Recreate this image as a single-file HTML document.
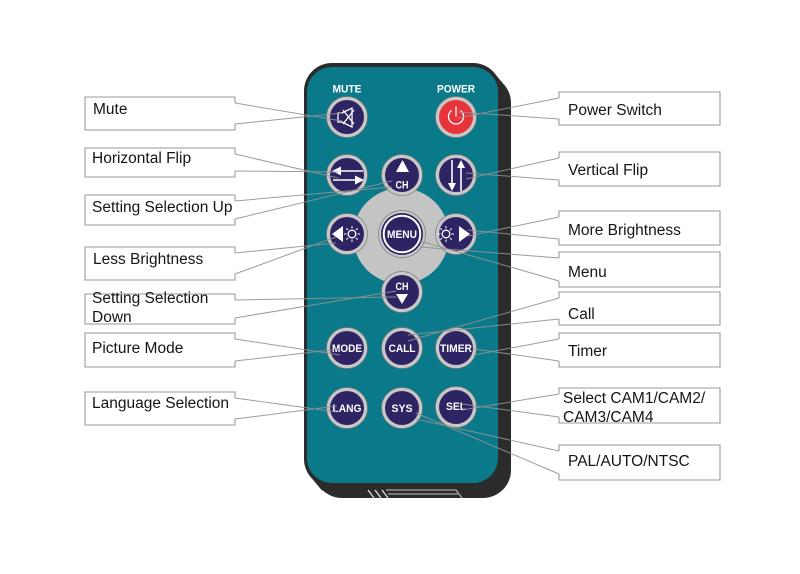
<!DOCTYPE html>
<html><head><meta charset="utf-8"><style>
html,body{margin:0;padding:0;background:#fff;}
svg{display:block;}
.lbl{font-family:"Liberation Sans",Arial,sans-serif;font-size:15.5px;fill:#151515;}
.bt{font-family:"Liberation Sans",Arial,sans-serif;font-weight:bold;font-size:11px;fill:#fff;}
</style></head><body>
<svg width="800" height="574" viewBox="0 0 800 574" xmlns="http://www.w3.org/2000/svg">
<rect width="800" height="574" fill="#fff"/>
<!-- remote body -->
<g fill="#2b2b2b">
<rect x="304" y="63" width="197" height="424" rx="28"/>
<rect x="314" y="75" width="197" height="423" rx="28"/>
<polygon points="473,91 492.8,71.2 502.8,83.2 483,103"/>
<polygon points="332,459 312.2,478.8 322.2,490.8 342,471"/>
</g>
<rect x="307" y="67" width="191" height="416" rx="25" fill="#0a7a8b"/>
<line x1="332" y1="485" x2="474" y2="485" stroke="#3a2020" stroke-width="1"/>
<!-- slot -->
<g stroke="#a8a8a8" stroke-width="1.3" fill="none">
<polyline points="386,490 456,490 462,498"/>
<line x1="388" y1="494" x2="458" y2="494"/>
<line x1="368" y1="490" x2="374" y2="498" stroke="#ddd"/>
<line x1="375" y1="490" x2="381" y2="498" stroke="#ddd"/>
<line x1="382" y1="490" x2="388" y2="498" stroke="#ddd"/>
</g>
<!-- pad -->
<circle cx="401" cy="236" r="48" fill="#c4c4c4"/>
<!-- top labels -->
<text class="bt" x="347" y="92.5" text-anchor="middle" textLength="29" lengthAdjust="spacingAndGlyphs" font-size="10.5">MUTE</text>
<text class="bt" x="456" y="92.5" text-anchor="middle" textLength="38" lengthAdjust="spacingAndGlyphs" font-size="10.5">POWER</text>
<!-- buttons -->
<g stroke="#7a7a7a" stroke-width="0.7" fill="#c8c8c8">
<circle cx="347" cy="117" r="20.5"/>
<circle cx="456" cy="117" r="20.5"/>
<circle cx="347" cy="175" r="20.5"/>
<circle cx="402" cy="175" r="20.5"/>
<circle cx="456" cy="175" r="20.5"/>
<circle cx="347" cy="234" r="20.5"/>
<circle cx="402" cy="234" r="23.5"/>
<circle cx="456" cy="234" r="20.5"/>
<circle cx="402" cy="292" r="20.5"/>
<circle cx="347" cy="348" r="20.5"/>
<circle cx="402" cy="348" r="20.5"/>
<circle cx="456" cy="348" r="20.5"/>
<circle cx="347" cy="408" r="20.5"/>
<circle cx="402" cy="408" r="20.5"/>
<circle cx="456" cy="407" r="20.5"/>
</g>
<g fill="#2e2464">
<circle cx="347" cy="117" r="17"/>
<circle cx="347" cy="175" r="17"/>
<circle cx="402" cy="175" r="17"/>
<circle cx="456" cy="175" r="17"/>
<circle cx="347" cy="234" r="17"/>
<circle cx="402" cy="234" r="21"/>
<circle cx="456" cy="234" r="17"/>
<circle cx="402" cy="292" r="17"/>
<circle cx="347" cy="348" r="17"/>
<circle cx="402" cy="348" r="17"/>
<circle cx="456" cy="348" r="17"/>
<circle cx="347" cy="408" r="17"/>
<circle cx="402" cy="408" r="17"/>
<circle cx="456" cy="407" r="17"/>
</g>
<circle cx="456" cy="117" r="17" fill="#e8333b"/>
<circle cx="402" cy="234" r="18.3" fill="none" stroke="#fff" stroke-width="2"/>
<!-- icons -->
<g stroke="#fff" stroke-width="1.3" fill="none">
<!-- mute -->
<path d="M338,113 h4 l10,-5 v19 l-10,-5 h-4 z"/>
<line x1="343" y1="110" x2="354" y2="124"/>
<line x1="354" y1="110" x2="343" y2="124"/>
<!-- power -->
<path d="M451.5,110.5 A7.5,7.5 0 1 0 460.5,110.5"/>
<line x1="456" y1="106.5" x2="456" y2="116.5"/>
<!-- h flip -->
<line x1="338" y1="171" x2="363" y2="171" stroke-width="1.6"/>
<line x1="333" y1="180" x2="357" y2="180" stroke-width="1.6"/>
<!-- v flip -->
<line x1="452" y1="160" x2="452" y2="184" stroke-width="1.6"/>
<line x1="461" y1="168" x2="461" y2="191" stroke-width="1.6"/>
<!-- suns -->
<circle cx="352" cy="234" r="3.8"/>
<circle cx="446" cy="234" r="3.8"/>
<g stroke-width="1">
<path d="M357.5,234h2.5M344,234h2.5M352,239.5v2.5M352,226v2.5M355.9,237.9l1.8,1.8M346.3,228.3l1.8,1.8M355.9,230.1l1.8,-1.8M346.3,239.7l1.8,-1.8"/>
<path d="M451.5,234h2.5M438,234h2.5M446,239.5v2.5M446,226v2.5M449.9,237.9l1.8,1.8M440.3,228.3l1.8,1.8M449.9,230.1l1.8,-1.8M440.3,239.7l1.8,-1.8"/>
</g>
</g>
<g fill="#fff">
<polygon points="332,171 341,166.5 341,175.5"/>
<polygon points="364,180 355,175.5 355,184.5"/>
<polygon points="452,191 448,183 456,183"/>
<polygon points="461,160 457,168 465,168"/>
<polygon points="402.5,160 396,172 409,172"/>
<polygon points="396,294 408,294 402,304"/>
<polygon points="332,234 343,226 343,242"/>
<polygon points="470,234 459,226 459,242"/>
</g>
<!-- button text -->
<text class="bt" x="402" y="188.5" text-anchor="middle" textLength="13" lengthAdjust="spacingAndGlyphs">CH</text>
<text class="bt" x="402" y="290" text-anchor="middle" textLength="13" lengthAdjust="spacingAndGlyphs">CH</text>
<text class="bt" x="402" y="238" text-anchor="middle" textLength="30" lengthAdjust="spacingAndGlyphs" font-size="11.5">MENU</text>
<text class="bt" x="347" y="352" text-anchor="middle" textLength="30" lengthAdjust="spacingAndGlyphs">MODE</text>
<text class="bt" x="402" y="352" text-anchor="middle" textLength="27" lengthAdjust="spacingAndGlyphs">CALL</text>
<text class="bt" x="456" y="352" text-anchor="middle" textLength="32" lengthAdjust="spacingAndGlyphs">TIMER</text>
<text class="bt" x="347" y="412" text-anchor="middle" textLength="29" lengthAdjust="spacingAndGlyphs">LANG</text>
<text class="bt" x="402" y="412" text-anchor="middle" textLength="21" lengthAdjust="spacingAndGlyphs">SYS</text>
<text class="bt" x="456" y="410" text-anchor="middle" textLength="20" lengthAdjust="spacingAndGlyphs">SEL</text>
<!-- label boxes -->
<g stroke="#9a9a9a" stroke-width="1.1" fill="none">
<!-- left -->
<path d="M235,103 V97 H85 V130 H235 V124"/>
<path d="M235,154 V148 H85 V177 H235 V171"/>
<path d="M235,201 V195 H85 V225 H235 V219"/>
<path d="M235,253 V247 H85 V280 H235 V274"/>
<path d="M235,300 V294 H85 V324 H235 V318"/>
<path d="M235,339 V333 H85 V367 H235 V361"/>
<path d="M235,398 V392 H85 V425 H235 V419"/>
<!-- right -->
<path d="M559,98 V92 H720 V125 H559 V119"/>
<path d="M559,158 V152 H720 V186 H559 V180"/>
<path d="M559,217 V211 H720 V245 H559 V239"/>
<path d="M559,258 V252 H720 V287 H559 V281"/>
<path d="M559,298 V292 H720 V325 H559 V319"/>
<path d="M559,339 V333 H720 V367 H559 V361"/>
<path d="M559,394 V388 H720 V423 H559 V417"/>
<path d="M559,451 V445 H720 V480 H559 V474"/>
</g>
<!-- connector lines -->
<g stroke="#929292" stroke-width="1" fill="none" opacity="0.9">
<line x1="235" y1="103" x2="342" y2="121"/><line x1="235" y1="124" x2="342" y2="113"/>
<line x1="235" y1="154" x2="338" y2="178"/><line x1="235" y1="171" x2="338" y2="172"/>
<line x1="235" y1="201" x2="392" y2="187"/><line x1="235" y1="219" x2="392" y2="181"/>
<line x1="235" y1="253" x2="336" y2="243"/><line x1="235" y1="274" x2="336" y2="237"/>
<line x1="235" y1="300" x2="396" y2="297"/><line x1="235" y1="318" x2="396" y2="291"/>
<line x1="235" y1="339" x2="340" y2="355"/><line x1="235" y1="361" x2="340" y2="349"/>
<line x1="235" y1="398" x2="337" y2="412"/><line x1="235" y1="419" x2="337" y2="406"/>
<line x1="559" y1="98" x2="458" y2="118"/><line x1="559" y1="119" x2="458" y2="112"/>
<line x1="559" y1="158" x2="466" y2="179"/><line x1="559" y1="180" x2="466" y2="173"/>
<line x1="559" y1="217" x2="468" y2="236"/><line x1="559" y1="239" x2="468" y2="230"/>
<line x1="559" y1="258" x2="420" y2="247"/><line x1="559" y1="281" x2="420" y2="241"/>
<line x1="559" y1="298" x2="408" y2="341"/><line x1="559" y1="319" x2="408" y2="335"/>
<line x1="559" y1="339" x2="474" y2="355"/><line x1="559" y1="361" x2="474" y2="349"/>
<line x1="559" y1="394" x2="462" y2="410"/><line x1="559" y1="417" x2="462" y2="404"/>
<line x1="559" y1="451" x2="416" y2="419"/><line x1="559" y1="474" x2="416" y2="413"/>
</g>
<!-- label text -->
<text class="lbl" x="93" y="114">Mute</text>
<text class="lbl" x="92" y="163">Horizontal Flip</text>
<text class="lbl" x="92" y="212">Setting Selection Up</text>
<text class="lbl" x="93" y="264">Less Brightness</text>
<text class="lbl" x="92" y="303">Setting Selection</text>
<text class="lbl" x="92" y="322">Down</text>
<text class="lbl" x="92" y="353">Picture Mode</text>
<text class="lbl" x="92" y="408">Language Selection</text>
<text class="lbl" x="568" y="115">Power Switch</text>
<text class="lbl" x="568" y="175">Vertical Flip</text>
<text class="lbl" x="568" y="235">More Brightness</text>
<text class="lbl" x="568" y="277">Menu</text>
<text class="lbl" x="568" y="319">Call</text>
<text class="lbl" x="568" y="356">Timer</text>
<text class="lbl" x="563" y="403">Select CAM1/CAM2/</text>
<text class="lbl" x="563" y="422">CAM3/CAM4</text>
<text class="lbl" x="568" y="466">PAL/AUTO/NTSC</text>
</svg>
</body></html>
